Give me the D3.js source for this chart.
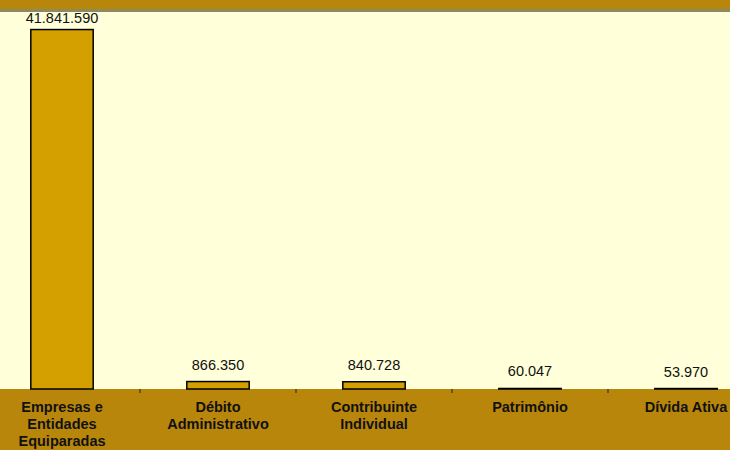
<!DOCTYPE html>
<html>
<head>
<meta charset="utf-8">
<script src="https://cdn.jsdelivr.net/npm/d3@7"></script>
<style>
  body { margin: 0; background: #b8860b; }
  svg { display: block; font-family: "Liberation Sans", Arial, sans-serif; }
</style>
</head>
<body>
<div id="chart"></div>
<script>
var categories = [
  ["Empresas e", "Entidades", "Equiparadas"],
  ["Débito", "Administrativo"],
  ["Contribuinte", "Individual"],
  ["Patrimônio"],
  ["Dívida Ativa"]
];
var values = [41841590, 866350, 840728, 60047, 53970];
var valueLabels = ["41.841.590", "866.350", "840.728", "60.047", "53.970"];

var width = 730, height = 450;
var plotTop = 11, baseY = 389;

var svg = d3.select("#chart").append("svg")
    .attr("width", width)
    .attr("height", height);

// backgrounds
svg.append("rect").attr("x", 0).attr("y", 0).attr("width", width).attr("height", height)
    .attr("fill", "#b8860b");
svg.append("rect").attr("x", 0).attr("y", 9).attr("width", width).attr("height", 3)
    .attr("fill", "#8c8a5e");
svg.append("rect").attr("x", 0).attr("y", 12).attr("width", width).attr("height", baseY - 12)
    .attr("fill", "#ffffd9");

var idx = d3.range(values.length);

var x = d3.scaleBand()
    .domain(idx)
    .range([-16, 764])
    .paddingInner(0.6)
    .paddingOuter(0.3);

var y = d3.scaleLinear()
    .domain([0, 44000000])
    .range([baseY, plotTop]);

// bars
svg.selectAll(".bar")
    .data(idx)
  .enter().append("rect")
    .attr("class", "bar")
    .attr("x", function(i) { return x(i); })
    .attr("y", function(i) { return y(values[i]); })
    .attr("width", x.bandwidth())
    .attr("height", function(i) { return baseY - y(values[i]); })
    .attr("fill", "#d4a000")
    .attr("stroke", "#000")
    .attr("stroke-width", 1.5);

// value labels
svg.selectAll(".val")
    .data(idx)
  .enter().append("text")
    .attr("class", "val")
    .attr("x", function(i) { return x(i) + x.bandwidth() / 2; })
    .attr("y", function(i) { return Math.max(y(values[i]) - 12, 23); })
    .attr("text-anchor", "middle")
    .attr("font-size", "14.5px")
    .attr("fill", "#111")
    .text(function(i) { return valueLabels[i]; });

// ticks between categories
var step = x.step();
var bounds = d3.range(1, values.length).map(function(i) {
  return x(i) - x.paddingInner() * step / 2;
});
svg.selectAll(".tick-b")
    .data(bounds)
  .enter().append("line")
    .attr("class", "tick-b")
    .attr("x1", function(d) { return d; })
    .attr("x2", function(d) { return d; })
    .attr("y1", baseY)
    .attr("y2", baseY + 4)
    .attr("stroke", "#222")
    .attr("stroke-width", 1);

// category labels
var cat = svg.selectAll(".cat")
    .data(idx)
  .enter().append("text")
    .attr("class", "cat")
    .attr("text-anchor", "middle")
    .attr("font-size", "14.5px")
    .attr("font-weight", "bold")
    .attr("fill", "#111");

cat.selectAll("tspan")
    .data(function(i) {
      return categories[i].map(function(t, k) { return { t: t, k: k, i: i }; });
    })
  .enter().append("tspan")
    .attr("x", function(d) { return x(d.i) + x.bandwidth() / 2; })
    .attr("y", function(d) { return 412 + d.k * 17; })
    .text(function(d) { return d.t; });
</script>
</body>
</html>
